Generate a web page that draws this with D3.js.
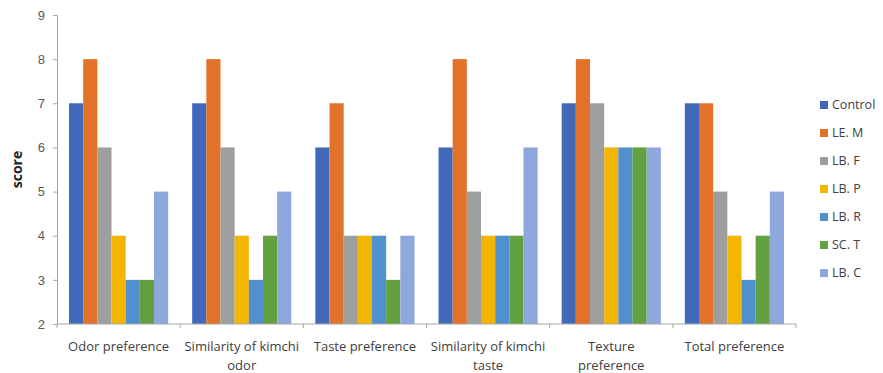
<!DOCTYPE html>
<html>
<head>
<meta charset="utf-8">
<script src="https://cdn.jsdelivr.net/npm/d3@7"></script>
<style>
  body { margin: 0; background: #fff; }
  svg { display: block; font-family: "Open Sans", "Noto Sans", sans-serif; }
</style>
</head>
<body>
<svg id="chart" width="883" height="373"></svg>
<script>
// Sensory evaluation scores per attribute and starter culture
const categories = [
  ["Odor preference"],
  ["Similarity of kimchi", "odor"],
  ["Taste preference"],
  ["Similarity of kimchi", "taste"],
  ["Texture", "preference"],
  ["Total preference"]
];
const seriesNames = ["Control", "LE. M", "LB. F", "LB. P", "LB. R", "SC. T", "LB. C"];
const seriesColors = ["#4069BA", "#E2712A", "#9E9E9E", "#F2B600", "#5190CE", "#63A03F", "#8EA7DC"];
const control = [7, 7, 6, 6, 7, 7];
const leM     = [8, 8, 7, 8, 8, 7];
const lbF     = [6, 6, 4, 5, 7, 5];
const lbP     = [4, 4, 4, 4, 6, 4];
const lbR     = [3, 3, 4, 4, 6, 3];
const scT     = [3, 4, 3, 4, 6, 4];
const lbC     = [5, 5, 4, 6, 6, 5];
const yTicks  = [2, 3, 4, 5, 6, 7, 8, 9];

const series = [control, leM, lbF, lbP, lbR, scT, lbC];

const svg = d3.select("#chart");
const plotLeft = 57, plotRight = 796, plotTop = 15, plotBottom = 324;

const x0 = d3.scaleBand().domain(d3.range(categories.length)).range([plotLeft, plotRight]).paddingInner(0.195).paddingOuter(0.0975);
const x1 = d3.scaleBand().domain(d3.range(seriesNames.length)).range([0, x0.bandwidth()]);
const y = d3.scaleLinear().domain([2, 9]).range([plotBottom, plotTop]);

// Bars
categories.forEach((c, ci) => {
  const g = svg.append("g").attr("transform", `translate(${x0(ci)},0)`);
  series.forEach((vals, si) => {
    g.append("rect")
      .attr("x", x1(si))
      .attr("y", y(vals[ci]))
      .attr("width", x1.bandwidth())
      .attr("height", y(2) - y(vals[ci]))
      .attr("fill", seriesColors[si]);
  });
});

// Y axis
const yAxis = svg.append("g").attr("transform", `translate(${plotLeft},0)`)
  .call(d3.axisLeft(y).tickValues(yTicks).tickSize(4).tickPadding(8).tickFormat(d3.format("d")));
yAxis.select(".domain").attr("stroke", "#A6A6A6");
yAxis.selectAll(".tick line").attr("stroke", "#A6A6A6");
yAxis.selectAll(".tick text").attr("fill", "#595959").attr("font-size", 13);

// X axis line with category dividers
const xAxisG = svg.append("g");
xAxisG.append("line").attr("x1", plotLeft).attr("x2", plotRight).attr("y1", plotBottom).attr("y2", plotBottom).attr("stroke", "#A6A6A6");
d3.range(categories.length + 1).forEach(i => {
  const xp = plotLeft + i * (plotRight - plotLeft) / categories.length;
  xAxisG.append("line").attr("x1", xp).attr("x2", xp).attr("y1", plotBottom).attr("y2", plotBottom + 4).attr("stroke", "#A6A6A6");
});

// Category labels
categories.forEach((lines, ci) => {
  const cx = x0(ci) + x0.bandwidth() / 2;
  const t = svg.append("text")
    .attr("x", cx).attr("y", 351)
    .attr("text-anchor", "middle")
    .attr("fill", "#404040")
    .attr("font-size", 13);
  lines.forEach((ln, li) => {
    t.append("tspan").attr("x", cx).attr("dy", li === 0 ? 0 : 19).text(ln);
  });
});

// Y axis title
svg.append("text")
  .attr("transform", `translate(22,${(plotTop + plotBottom) / 2}) rotate(-90)`)
  .attr("text-anchor", "middle")
  .attr("font-size", 14)
  .attr("font-weight", "bold")
  .attr("fill", "#262626")
  .text("score");

// Legend
const legend = svg.append("g");
seriesNames.forEach((name, i) => {
  const ly = 105 + i * 28;
  legend.append("rect").attr("x", 820).attr("y", ly - 4).attr("width", 8).attr("height", 8).attr("fill", seriesColors[i]);
  legend.append("text").attr("x", 832).attr("y", ly).attr("dy", "0.35em")
    .attr("font-size", 12.5).attr("fill", "#404040").text(name);
});
</script>
</body>
</html>
